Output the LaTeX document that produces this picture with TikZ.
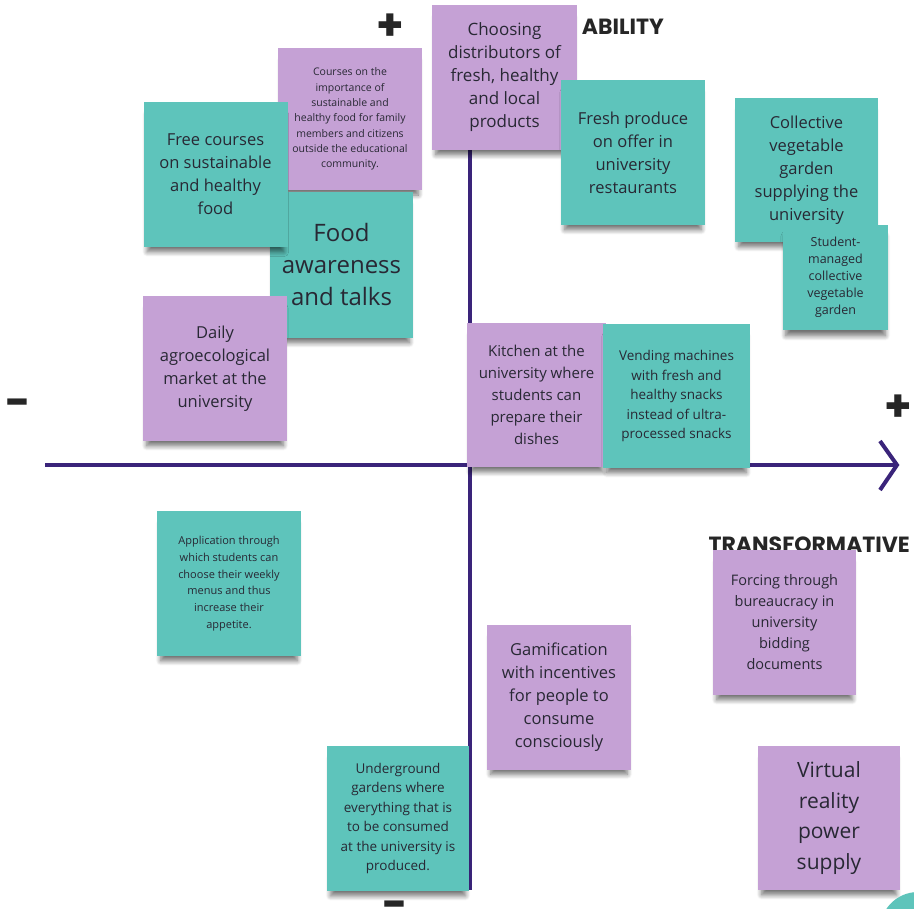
\documentclass[tikz,border=0pt]{standalone}
\usepackage{fontspec}
\setmainfont{Open Sans}
\newfontfamily\headfont{Poppins}
\usetikzlibrary{shadows.blur}
\definecolor{noteteal}{RGB}{94,196,187}
\definecolor{notelilac}{RGB}{197,161,213}
\definecolor{axisblue}{RGB}{58,36,122}
\definecolor{notetext}{RGB}{40,40,52}

\begin{document}
\begin{tikzpicture}[x=1pt,y=1pt]
\tikzstyle{every node}+=[inner sep=0pt]
\tikzstyle{note}=[minimum width=144pt,minimum height=145pt,align=center,text=notetext,
  blur shadow={shadow xshift=0pt,shadow yshift=-9pt,shadow scale=0.95,shadow opacity=55,shadow blur radius=5pt,shadow blur steps=8}]
\tikzstyle{tealnote}=[note,fill=noteteal]
\tikzstyle{lilacnote}=[note,fill=notelilac]
\tikzstyle{axis}=[draw=axisblue,line width=4pt]
\tikzstyle{sign}=[font=\headfont\bfseries\fontsize{44}{44}\selectfont,text=black!85]
\tikzstyle{title}=[font=\headfont\bfseries\fontsize{22}{22}\selectfont,text=black!85]
\useasboundingbox (0,0) rectangle (914,-909);
% axes
\coordinate (west) at (45,-465);
\coordinate (east) at (897,-465);
\coordinate (north) at (470,-40);
\coordinate (south) at (470,-890);
\coordinate (tipup) at (880,-441);
\coordinate (tiplow) at (880,-490);
\draw [axis] (west) -- (east);
\draw [axis] (north) -- (south);
\draw [axis] (tipup) -- (east) -- (tiplow);
\node [sign] (plustop) at (390,-27) {+};
\node [sign] (plusright) at (898,-408) {+};
\node [sign] (minusleft) at (18,-408) {-};
\node [sign] (minusbottom) at (395,-910) {-};
\node [title,anchor=east] (ability) at (664,-27) {ABILITY};
\node [title,anchor=east] (transform) at (910,-545) {TRANSFORMATIVE};
% notes
\node [lilacnote,minimum height=142pt,font=\fontsize{10.5}{15.3}\selectfont] (courses) at (350,-119)
  {Courses on the\\importance of\\sustainable and\\healthy food for family\\members and citizens\\outside the educational\\community.};
\node [lilacnote,minimum width=145pt,font=\fontsize{17}{23}\selectfont] (choosing) at (504.5,-77.5)
  {Choosing\\distributors of\\fresh, healthy\\and local\\products};
\node [tealnote,font=\fontsize{16.5}{23}\selectfont] (fresh) at (633,-152.5)
  {Fresh produce\\on offer in\\university\\restaurants};
\node [tealnote,minimum width=143pt,minimum height=144pt,font=\fontsize{16.5}{23}\selectfont] (collective) at (806.5,-170)
  {Collective\\vegetable\\garden\\supplying the\\university};
\node [tealnote,minimum width=105pt,minimum height=105pt,font=\fontsize{12.5}{17}\selectfont] (student) at (835.5,-277.5)
  {Student-\\managed\\collective\\vegetable\\garden};
\node [tealnote,minimum width=143pt,minimum height=146pt,font=\fontsize{24}{32}\selectfont] (awareness) at (341.5,-265)
  {Food\\awareness\\and talks};
\node [tealnote,font=\fontsize{16.5}{23}\selectfont] (freecourses) at (215.5,-174.5)
  {Free courses\\on sustainable\\and healthy\\food};
\node [lilacnote,font=\fontsize{16.5}{23}\selectfont] (market) at (215,-368.5)
  {Daily\\agroecological\\market at the\\university};
\node [lilacnote,minimum width=139pt,minimum height=144pt,font=\fontsize{15}{22}\selectfont] (kitchen) at (536.5,-395)
  {Kitchen at the\\university where\\students can\\prepare their\\dishes};
\node [tealnote,minimum width=147pt,minimum height=144pt,font=\fontsize{13.5}{19.5}\selectfont] (vending) at (676.5,-396)
  {Vending machines\\with fresh and\\healthy snacks\\instead of ultra-\\processed snacks};
\node [tealnote,font=\fontsize{11}{16.7}\selectfont] (application) at (229,-583.5)
  {Application through\\which students can\\choose their weekly\\menus and thus\\increase their\\appetite.};
\node [lilacnote,minimum width=143pt,font=\fontsize{14.5}{21}\selectfont] (forcing) at (784.5,-622.5)
  {Forcing through\\bureaucracy in\\university\\bidding\\documents};
\node [lilacnote,font=\fontsize{16.5}{23}\selectfont] (gamification) at (559,-697)
  {Gamification\\with incentives\\for people to\\consume\\consciously};
\node [tealnote,minimum width=142pt,font=\fontsize{13.5}{19.4}\selectfont] (underground) at (398,-818.5)
  {Underground\\gardens where\\everything that is\\to be consumed\\at the university is\\produced.};
\node [lilacnote,minimum width=142pt,minimum height=144pt,font=\fontsize{21}{30.5}\selectfont] (virtual) at (829,-818)
  {Virtual\\reality\\power\\supply};
\fill [noteteal] (918,-930) circle (38);
\end{tikzpicture}
\end{document}
